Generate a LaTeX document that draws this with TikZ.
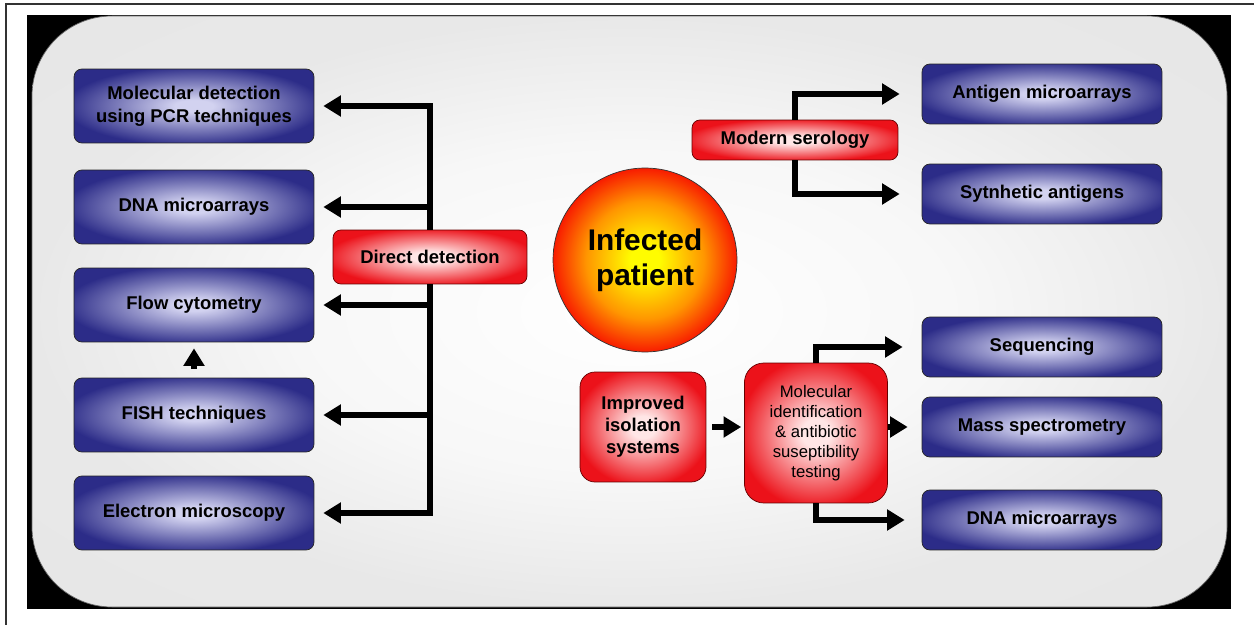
\documentclass[tikz,border=0pt]{standalone}
\usepackage{fontspec}
\setmainfont{Liberation Sans}
\usetikzlibrary{arrows.meta}
\definecolor{boxE}{RGB}{44,44,136}
\definecolor{boxC}{RGB}{210,210,240}
\definecolor{redE}{RGB}{236,18,26}
\definecolor{redC}{RGB}{255,230,230}
\definecolor{sunC}{RGB}{255,252,0}
\definecolor{sunM}{RGB}{255,150,0}
\definecolor{sunE}{RGB}{248,28,0}
\pgfdeclareradialshading{blueglow}{\pgfpointorigin}{color(0bp)=(boxC); color(4bp)=(boxC); color(27bp)=(boxE); color(50bp)=(boxE)}
\pgfdeclareradialshading{redglow}{\pgfpointorigin}{color(0bp)=(redC); color(5bp)=(redC); color(27bp)=(redE); color(50bp)=(redE)}
\pgfdeclareradialshading{sunglow}{\pgfpointorigin}{color(0bp)=(sunC); color(4bp)=(sunC); color(16bp)=(sunM); color(25bp)=(sunE); color(50bp)=(sunE)}
\pgfdeclareradialshading{paleglow}{\pgfpointorigin}{color(0bp)=(white); color(14bp)=(white!97!black); color(25bp)=(black!9); color(50bp)=(black!10)}

\begin{document}
\begin{tikzpicture}[x=0.02cm,y=-0.02cm,
  arr/.style={line width=3pt,-{Triangle[length=10pt,width=11.5pt]}},
  bluebox/.style={draw=black!85,rounded corners=4.5pt,shading=blueglow,minimum width=4.8cm,align=center,font=\fontsize{10.5}{13}\selectfont\bfseries},
  redbox/.style={draw=black!60!red,rounded corners=4.5pt,shading=redglow,align=center,font=\fontsize{10.5}{12.5}\selectfont\bfseries}]
\useasboundingbox (0,0) rectangle (1254,625);
% frame and background
\draw[line width=1.2pt,black!80] (6,625) -- (6,4) -- (1254,4);
\fill[black] (27,15) rectangle (1231,609);
\draw[black!60,shading=paleglow,rounded corners=1.6cm] (32,16) rectangle (1227,607);

% direct detection
\node[bluebox,minimum height=1.48cm] (pcr) at (194,106) {Molecular detection\\using PCR techniques};
\node[bluebox,minimum height=1.48cm] (dnaL) at (194,207) {DNA microarrays};
\node[bluebox,minimum height=1.48cm] (flow) at (194,305) {Flow cytometry};
\node[bluebox,minimum height=1.48cm] (fish) at (194,415) {FISH techniques};
\node[bluebox,minimum height=1.48cm] (em) at (194,513) {Electron microscopy};
\node[redbox,minimum width=3.88cm,minimum height=1.08cm] (dd) at (430,257) {Direct detection};
\foreach \t in {pcr,dnaL,flow,fish,em}
  \draw[arr,shorten >=0.18cm] (dd) |- (\t);
\draw[arr,shorten <=0.18cm,shorten >=0.12cm] (fish) -- (flow);

% patient
\node[circle,draw=black!80,shading=sunglow,minimum size=3.68cm,align=center,font=\fontsize{17}{20}\selectfont\bfseries] (pat) at (645,260) {Infected\\patient};

% serology
\node[redbox,minimum width=4.12cm,minimum height=0.8cm] (ms) at (795,140) {Modern serology};
\node[bluebox,minimum height=1.2cm] (agm) at (1042,94) {Antigen microarrays};
\node[bluebox,minimum height=1.2cm] (syn) at (1042,194) {Sytnhetic antigens};
\draw[arr,shorten >=0.44cm] (ms) |- (agm);
\draw[arr,shorten >=0.44cm] (ms) |- (syn);

% isolation
\node[redbox,minimum width=2.52cm,minimum height=2.2cm,rounded corners=8.5pt] (iso) at (643,427) {Improved\\isolation\\systems};
\node[redbox,minimum width=2.86cm,minimum height=2.8cm,rounded corners=11pt,font=\fontsize{9.5}{11.3}\selectfont] (mid) at (816,433) {Molecular\\identification\\\& antibiotic\\suseptibility\\testing};
\node[bluebox,minimum height=1.2cm] (seq) at (1042,347) {Sequencing};
\node[bluebox,minimum height=1.2cm] (mass) at (1042,427) {Mass spectrometry};
\node[bluebox,minimum height=1.2cm] (dnaR) at (1042,520) {DNA microarrays};
\draw[arr,shorten <=0.12cm,shorten >=0.06cm] (iso) -- (iso -| mid.west);
\draw[arr,shorten >=0.38cm] (mid) |- (seq);
\draw[arr,shorten >=0.28cm] (mid.east |- mass) -- (mass);
\draw[arr,shorten >=0.34cm] (mid) |- (dnaR);
\end{tikzpicture}
\end{document}
